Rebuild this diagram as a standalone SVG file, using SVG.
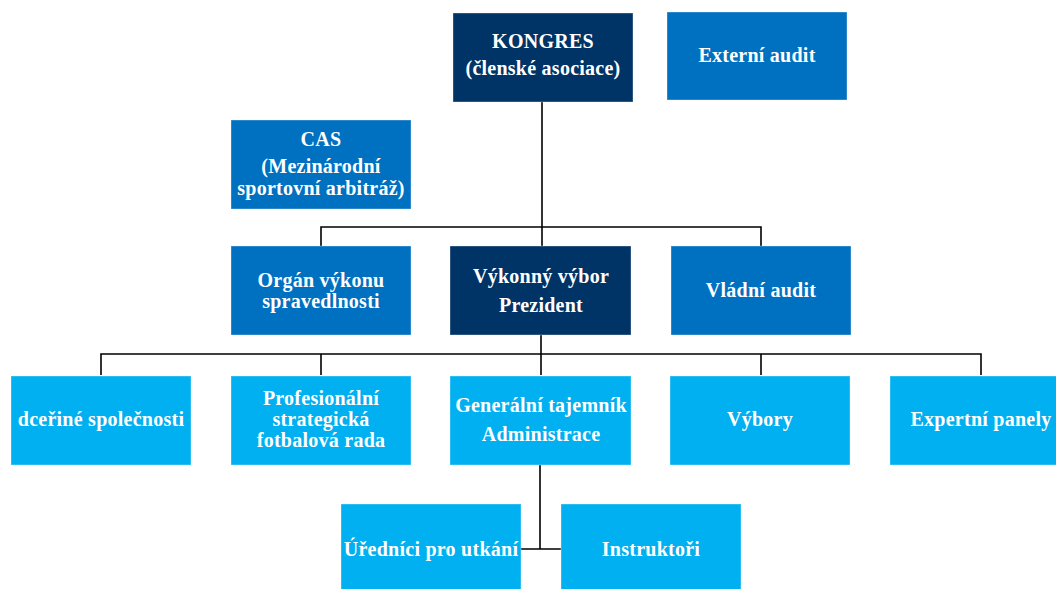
<svg xmlns="http://www.w3.org/2000/svg" width="1056" height="589" viewBox="0 0 1056 589">
<style>
.t{font-family:"Liberation Serif","Times New Roman",serif;font-weight:bold;font-size:20px;letter-spacing:0.25px;fill:#ffffff;text-anchor:middle}
.navy{fill:#003366}
.mid{fill:#0070C0}
.light{fill:#00B0F0}
.box{stroke:#ffffff;stroke-opacity:0.35;stroke-width:1}
.c{fill:none;stroke:#000000;stroke-width:1.6}
</style>
<rect width="1056" height="589" fill="#ffffff"/>
<g id="connectors">
<path class="c" d="M542 102 V227 M321 246 V227 H761 V246 M542 227 V246"/>
<path class="c" d="M541 335 V354 M101 375 V354 H981 V375 M321 354 V375 M541 354 V375 M761 354 V375"/>
<path class="c" d="M540 464 V549 M521 549 H561"/>
</g>
<g id="kongres"><rect class="box navy" x="453" y="13" width="180" height="89"/><text class="t" x="543" y="48">KONGRES</text><text class="t" x="543" y="75">(členské asociace)</text></g>
<g id="externi-audit"><rect class="box mid" x="667" y="12" width="180" height="88"/><text class="t" x="757" y="62">Externí audit</text></g>
<g id="cas"><rect class="box mid" x="231" y="120" width="180" height="89"/><text class="t" x="321" y="146">CAS</text><text class="t" x="321" y="173">(Mezinárodní</text><text class="t" x="321" y="195">sportovní arbitráž)</text></g>
<g id="organ"><rect class="box mid" x="231" y="246" width="180" height="89"/><text class="t" x="321" y="287">Orgán výkonu</text><text class="t" x="321" y="308">spravedlnosti</text></g>
<g id="vykonny"><rect class="box navy" x="450" y="246" width="181" height="89"/><text class="t" x="541" y="283">Výkonný výbor</text><text class="t" x="541" y="312">Prezident</text></g>
<g id="vladni-audit"><rect class="box mid" x="671" y="246" width="180" height="89"/><text class="t" x="761" y="297">Vládní audit</text></g>
<g id="dcerine"><rect class="box light" x="11" y="376" width="180" height="89"/><text class="t" x="101" y="426">dceřiné společnosti</text></g>
<g id="profesionalni"><rect class="box light" x="231" y="376" width="180" height="89"/><text class="t" x="321" y="405">Profesionální</text><text class="t" x="321" y="426">strategická</text><text class="t" x="321" y="447">fotbalová rada</text></g>
<g id="generalni"><rect class="box light" x="450" y="376" width="181" height="89"/><text class="t" x="541" y="412">Generální tajemník</text><text class="t" x="541" y="441">Administrace</text></g>
<g id="vybory"><rect class="box light" x="670" y="376" width="180" height="89"/><text class="t" x="760" y="426">Výbory</text></g>
<g id="expertni"><rect class="box light" x="890" y="376" width="180" height="89"/><text class="t" x="981" y="426">Expertní panely</text></g>
<g id="uredinici"><rect class="box light" x="341" y="504" width="180" height="90"/><text class="t" x="431" y="556">Úředníci pro utkání</text></g>
<g id="instruktori"><rect class="box light" x="561" y="504" width="180" height="90"/><text class="t" x="651" y="556">Instruktoři</text></g>
</svg>
